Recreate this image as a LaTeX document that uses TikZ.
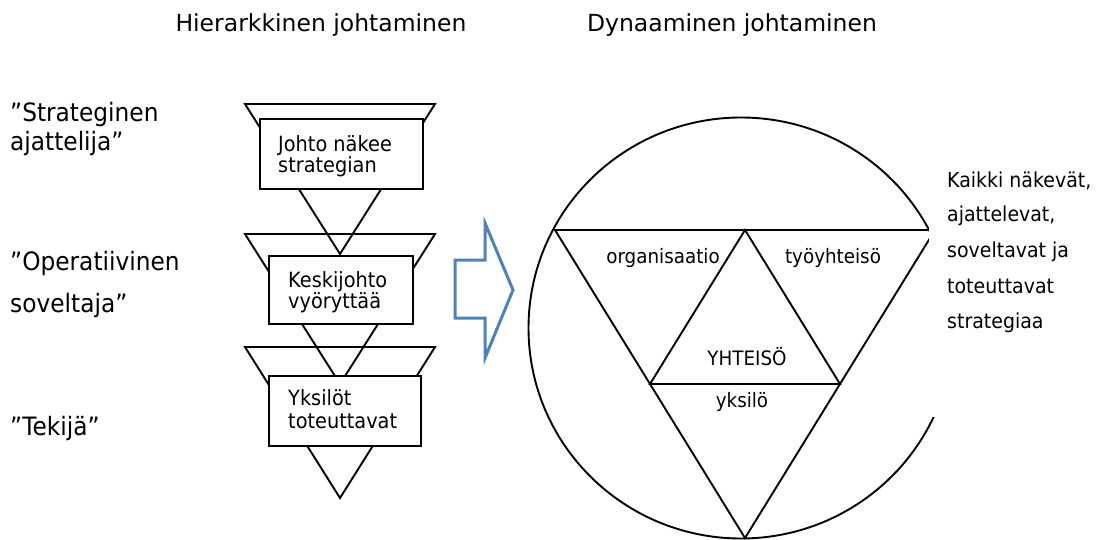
\documentclass[tikz,border=0pt]{standalone}
\usepackage{fontspec}
\setmainfont{DejaVu Sans}
\newfontfamily\narrowsans[FakeStretch=0.92]{DejaVu Sans}
\definecolor{arrowblue}{RGB}{79,129,189}
\begin{document}
\begin{tikzpicture}[x=1pt,y=-1pt,
  outline/.style={line width=1.9pt, line join=miter},
  levelbox/.style={draw, line width=1.9pt, fill=white, inner sep=0pt, anchor=north west},
  title/.style={font=\fontsize{23.5}{28}\selectfont, anchor=base, inner sep=0pt},
  rolelabel/.style={font=\narrowsans\fontsize{25.3}{30}\selectfont, anchor=base west, inner sep=0pt},
  boxtext/.style={font=\narrowsans\fontsize{21}{25}\selectfont, anchor=base west, inner sep=0pt},
  parttext/.style={font=\narrowsans\fontsize{19.9}{24}\selectfont, anchor=base, inner sep=0pt},
  sidetext/.style={font=\narrowsans\fontsize{20.6}{24}\selectfont, anchor=base west, inner sep=0pt}]
\useasboundingbox (0,0) rectangle (1102,540);

% headings
\node[title] (hier) at (321,32) {Hierarkkinen johtaminen};
\node[title] (dyn) at (732,32) {Dynaaminen johtaminen};

% role labels on the left
\node[rolelabel] (r1a) at (10,122) {”Strateginen};
\node[rolelabel] (r1b) at (10,151) {ajattelija”};
\node[rolelabel] (r2a) at (10,270) {”Operatiivinen};
\node[rolelabel] (r2b) at (10,312) {soveltaja”};
\node[rolelabel] (r3) at (10,435) {”Tekijä”};

% stacked funnels of the hierarchy
\coordinate (t1l) at (245,104); \coordinate (t1r) at (435,104); \coordinate (t1a) at (340,254);
\coordinate (t2l) at (245,234); \coordinate (t2r) at (435,234); \coordinate (t2a) at (340,384);
\coordinate (t3l) at (245,347); \coordinate (t3r) at (435,347); \coordinate (t3a) at (340,498);
\draw[outline] (t1l) -- (t1r) -- (t1a) -- cycle;
\draw[outline] (t2l) -- (t2r) -- (t2a) -- cycle;
\draw[outline] (t3l) -- (t3r) -- (t3a) -- cycle;

% level boxes
\node[levelbox, minimum width=163pt, minimum height=70pt] (box1) at (259,118) {};
\node[levelbox, minimum width=144pt, minimum height=68pt] (box2) at (268,255) {};
\node[levelbox, minimum width=152pt, minimum height=70pt] (box3) at (268,375) {};
\node[boxtext] (b1a) at (278,152) {Johto näkee};
\node[boxtext] (b1b) at (278,173) {strategian};
\node[boxtext] (b2a) at (288,287) {Keskijohto};
\node[boxtext] (b2b) at (288,308) {vyöryttää};
\node[boxtext] (b3a) at (288,405) {Yksilöt};
\node[boxtext] (b3b) at (288,428) {toteuttavat};

% transition arrow
\draw[arrowblue, line width=3pt, line join=miter]
  (455,260) -- (485,260) -- (485,223) -- (513,290) -- (485,358) -- (485,318) -- (455,318) -- cycle;

% dynamic model: circle with nested triangles
\coordinate (cc) at (741,328);
\draw[outline] (cc) ellipse [x radius=212.5pt, y radius=210.5pt];
\coordinate (bl) at (555,230); \coordinate (br) at (935,230); \coordinate (bb) at (745,538);
\coordinate (mt) at (745,230); \coordinate (ml) at (650,384); \coordinate (mr) at (840,384);
\draw[outline] (bl) -- (br) -- (bb) -- cycle;
\draw[outline] (mt) -- (ml) -- (mr) -- cycle;
\node[parttext] (org) at (663,263) {organisaatio};
\node[parttext] (work) at (833,263) {työyhteisö};
\node[parttext] (comm) at (747,365) {YHTEISÖ};
\node[parttext] (indiv) at (742,407) {yksilö};

% side note on a white panel
\node[fill=white, inner sep=0pt, minimum width=173pt, minimum height=257pt, anchor=north west] (notebg) at (929,160) {};
\node[sidetext] (n1) at (947,187) {Kaikki näkevät,};
\node[sidetext] (n2) at (947,222) {ajattelevat,};
\node[sidetext] (n3) at (947,257) {soveltavat ja};
\node[sidetext] (n4) at (947,293) {toteuttavat};
\node[sidetext] (n5) at (947,328) {strategiaa};
\end{tikzpicture}
\end{document}
